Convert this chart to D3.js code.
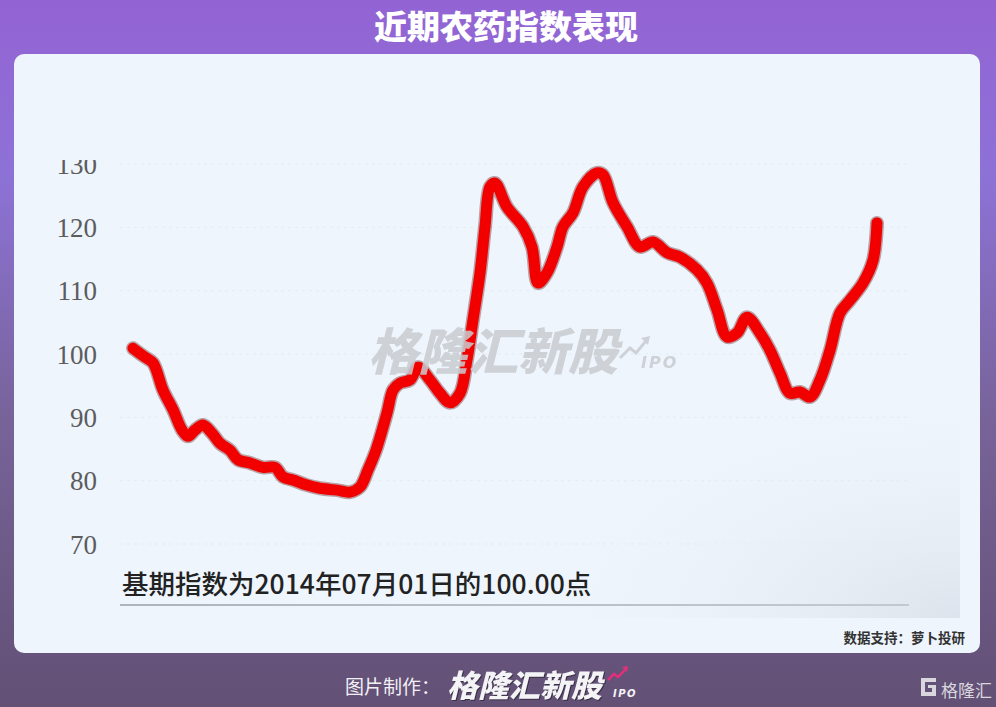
<!DOCTYPE html>
<html><head><meta charset="utf-8">
<script src="https://cdn.jsdelivr.net/npm/d3@7"></script>
<style>html,body{margin:0;padding:0;background:#fff;}svg{display:block;}</style>
</head><body>
<script>
// ---- data ----
const title = "近期农药指数表现";
const baseNote = "基期指数为2014年07月01日的100.00点";
const source = "数据支持：萝卜投研";
const yTicks = [70, 80, 90, 100, 110, 120, 130];
// time index (weeks from start of window) and index value
const weeks = [0,3,5,7.5,10,12.25,13.75,15.5,17.5,19.75,21.75,24.25,26.25,29.25,32.5,35.5,37.5,40,43.5,46.75,51,54.25,56.75,58.75,60.75,63.5,65,66.75,69.25,71.25,74.25,76.75,79.25,81.75,83.5,85,86.75,88,89.25,90.5,93.5,97.5,99.75,101.25,103.5,106,107.5,110,112.5,116,117.5,120,123.5,126.75,130,133.5,136.75,141,143.5,146,148.5,151,153.5,156.75,159.25,161.75,164.25,166.75,169.25,171.75,174.25,176.75,179.25,182.5,185,186];
const values = [100.9,99.5,98.6,94.3,91.2,88.0,87.0,88.0,88.8,87.5,85.9,84.8,83.3,82.8,82.1,82.1,80.6,80.1,79.3,78.8,78.5,78.2,79.0,81.7,84.8,90.7,94.3,95.4,95.9,97.9,95.9,93.8,92.3,93.8,99.1,105.4,112.8,120.1,126.4,127.0,123.2,120.1,116.9,111.2,112.8,116.9,120.1,122.3,126.4,128.6,128.3,123.9,120.1,116.9,117.7,116.0,115.3,113.3,111.2,107.0,102.7,103.3,105.8,103.3,100.6,97.0,93.8,94.0,93.2,95.9,100.6,106.5,108.5,111.2,114.8,120.7];

const W = 996, H = 707;
const svg = d3.select("body").append("svg").attr("width", W).attr("height", H);
const defs = svg.append("defs");

const bg = defs.append("linearGradient").attr("id","bg").attr("x1",0).attr("y1",0).attr("x2",0).attr("y2",1);
bg.append("stop").attr("offset","0%").attr("stop-color","#9363d4");
bg.append("stop").attr("offset","25%").attr("stop-color","#8d72d6");
bg.append("stop").attr("offset","60%").attr("stop-color","#776398");
bg.append("stop").attr("offset","100%").attr("stop-color","#625075");
svg.append("rect").attr("width",W).attr("height",H).attr("fill","url(#bg)");

// title
svg.append("text").attr("x",W/2+8).attr("y",39).attr("text-anchor","middle")
  .attr("font-family","Noto Sans CJK SC").attr("font-weight",900).attr("font-size",33)
  .attr("fill","#fff").text(title);

// card
svg.append("rect").attr("x",14).attr("y",54).attr("width",966).attr("height",599).attr("rx",10)
  .attr("fill","#eef5fd");

// faint image shading bottom-right
const sh = defs.append("radialGradient").attr("id","sh").attr("cx",1).attr("cy",1).attr("r",1.1);
sh.append("stop").attr("offset","0%").attr("stop-color","#d6dce5").attr("stop-opacity",1);
sh.append("stop").attr("offset","100%").attr("stop-color","#eef5fd").attr("stop-opacity",0);
svg.append("rect").attr("x",540).attr("y",400).attr("width",420).attr("height",218).attr("fill","url(#sh)").attr("opacity",0.7);

// scales
const x = d3.scaleLinear().domain([0,186]).range([133,877]);
const y = d3.scaleLinear().domain([70,130]).range([544,164]);

// clip for the cut-off top label
defs.append("clipPath").attr("id","plotclip").append("rect").attr("x",0).attr("y",160).attr("width",W).attr("height",460);

// faint gridlines
const g = svg.append("g").attr("clip-path","url(#plotclip)");
g.selectAll("line.grid").data(yTicks).join("line")
  .attr("x1",120).attr("x2",908).attr("y1",d=>y(d)).attr("y2",d=>y(d))
  .attr("stroke","#e4ebf3").attr("stroke-width",1).attr("stroke-dasharray","3,4");

// y axis labels via d3 axis
const yAxis = d3.axisLeft(y).tickValues(yTicks).tickSize(0).tickPadding(0);
const ag = g.append("g").attr("transform","translate(97,0)").call(yAxis);
ag.select(".domain").remove();
ag.selectAll("text").attr("font-family","Liberation Serif").attr("font-size",27)
  .attr("fill","#5c5c5c").attr("dy","0.34em");

// line
const line = d3.line().x((d,i)=>x(weeks[i])).y(d=>y(d)).curve(d3.curveCatmullRom.alpha(0.5));
svg.append("path").datum(values).attr("d",line).attr("fill","none")
  .attr("stroke","#5a0000").attr("stroke-opacity",0.35).attr("stroke-width",14)
  .attr("stroke-linejoin","round").attr("stroke-linecap","round");
svg.append("path").datum(values).attr("d",line).attr("fill","none")
  .attr("stroke","#f20000").attr("stroke-width",11)
  .attr("stroke-linejoin","round").attr("stroke-linecap","round");

// base note and bottom rule
svg.append("text").attr("x",122).attr("y",594).attr("font-family","Noto Sans CJK SC").attr("font-weight",500)
  .attr("font-size",26.5).attr("fill","#222").text(baseNote);
const rl = defs.append("linearGradient").attr("id","rl");
rl.append("stop").attr("offset","0%").attr("stop-color","#b0b3b8");
rl.append("stop").attr("offset","100%").attr("stop-color","#c5c9cf");
svg.append("rect").attr("x",120).attr("y",604).attr("width",789).attr("height",2).attr("fill","url(#rl)");

// source
svg.append("text").attr("x",965).attr("y",643).attr("text-anchor","end").attr("font-family","Noto Sans CJK SC")
  .attr("font-weight",700).attr("font-size",13.5).attr("fill","#333").text(source);

// watermark
const wm = svg.append("g").attr("opacity",0.85);
wm.append("text").attr("x",368).attr("y",370).attr("font-family","Noto Sans CJK SC").attr("font-weight",900)
  .attr("font-size",50).attr("font-style","italic").attr("fill","#c9ccd1")
  .text("格隆汇新股");
wm.append("text").attr("x",641).attr("y",368).attr("font-family","DejaVu Sans").attr("font-weight",700)
  .attr("font-size",16).attr("font-style","italic").attr("fill","#c9ccd1").attr("letter-spacing",2).text("IPO");
wm.append("path").attr("d","M620,358 L630,348 L636,353 L646,341").attr("fill","none").attr("stroke","#c9ccd1").attr("stroke-width",3);
wm.append("path").attr("d","M641,338 L650,336 L648,345 Z").attr("fill","#c9ccd1");

// footer
svg.append("text").attr("x",345).attr("y",694).attr("font-family","Noto Sans CJK SC").attr("font-size",19)
  .attr("fill","#f2f0f5").text("图片制作：");
svg.append("text").attr("x",447).attr("y",697).attr("font-family","Noto Sans CJK SC").attr("font-weight",900)
  .attr("font-style","italic").attr("font-size",31).attr("fill","#f4f4f6")
  .attr("style","filter: drop-shadow(1px 1px 0 #3a3048)").text("格隆汇新股");
svg.append("text").attr("x",613).attr("y",697).attr("font-family","DejaVu Sans").attr("font-weight",700)
  .attr("font-style","italic").attr("font-size",10).attr("fill","#f4f4f6").attr("letter-spacing",1.5).text("IPO");
svg.append("path").attr("d","M608,680 L614,674 L618,677 L625,670").attr("fill","none").attr("stroke","#e0307a").attr("stroke-width",2.5);
svg.append("path").attr("d","M622,667 L628,666 L627,672 Z").attr("fill","#e0307a");

// bottom-right logo
const lg = svg.append("g");
lg.append("path").attr("d","M921,678 h15 v4 h-11 v10 h7 v-4 h-4 v-3 h8 v11 h-15 Z").attr("fill","#d9d6de");
lg.append("text").attr("x",941).attr("y",697).attr("font-family","Noto Sans CJK SC").attr("font-size",17)
  .attr("fill","#d9d6de").text("格隆汇");
</script>
</body></html>
